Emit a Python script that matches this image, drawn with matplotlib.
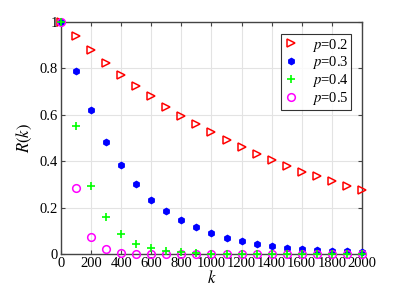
import numpy as np
import matplotlib.pyplot as plt

k = np.arange(0, 2001, 100)

r_02 = [1.0, 0.94, 0.88, 0.825, 0.77, 0.725, 0.68, 0.635, 0.595, 0.56, 0.525,
        0.49, 0.46, 0.43, 0.405, 0.38, 0.355, 0.335, 0.315, 0.295, 0.275]
r_03 = [1.0, 0.79, 0.62, 0.485, 0.385, 0.30, 0.235, 0.185, 0.145, 0.115, 0.092,
        0.070, 0.057, 0.044, 0.036, 0.027, 0.021, 0.018, 0.015, 0.012, 0.009]
r_04 = [1.0, 0.55, 0.295, 0.16, 0.085, 0.045, 0.025, 0.013, 0.007, 0.004, 0.002,
        0.001, 0.0, 0.0, 0.0, 0.0, 0.0, 0.0, 0.0, 0.0, 0.0]
r_05 = [1.0, 0.285, 0.075, 0.02, 0.005, 0.001, 0.0, 0.0, 0.0, 0.0, 0.0,
        0.0, 0.0, 0.0, 0.0, 0.0, 0.0, 0.0, 0.0, 0.0, 0.0]

plt.rcParams['font.family'] = ['Liberation Serif', 'DejaVu Serif']
plt.rcParams['mathtext.fontset'] = 'stix'

fig = plt.figure(figsize=(3.96, 2.94), dpi=100)
ax = fig.add_axes([0.154, 0.136, 0.76, 0.789])

ax.plot(k, r_02, linestyle='none', marker='>', markersize=6, markerfacecolor='none',
        markeredgecolor='red', markeredgewidth=1.1, label='$p$=0.2', clip_on=False, zorder=3)
ax.plot(k, r_03, linestyle='none', marker='h', markersize=4.5, color='blue',
        label='$p$=0.3', clip_on=False, zorder=3)
ax.plot(k, r_04, linestyle='none', marker='+', markersize=6, markeredgecolor='#00ff00',
        markeredgewidth=1.2, label='$p$=0.4', clip_on=False, zorder=4)
ax.plot(k, r_05, linestyle='none', marker='o', markersize=5.5, markerfacecolor='none',
        markeredgecolor='magenta', markeredgewidth=1.1, label='$p$=0.5', clip_on=False, zorder=3)

ax.set_xlim(0, 2000)
ax.set_ylim(0, 1)
ax.set_xticks(np.arange(0, 2001, 200))
ax.set_yticks([0, 0.2, 0.4, 0.6, 0.8, 1])
ax.set_yticklabels(['0', '0.2', '0.4', '0.6', '0.8', '1'])
ax.tick_params(direction='in', top=True, right=True, length=3, labelsize=10.5,
               color='#444444', pad=2)
ax.grid(True, color='#e3e3e3', linewidth=0.8)
ax.set_axisbelow(True)
for s in ax.spines.values():
    s.set_color('#444444')
    s.set_linewidth(1.0)

ax.set_xlabel('$k$', fontsize=12, labelpad=0)
ax.set_ylabel('$R(k)$', fontsize=12, labelpad=4)

leg = ax.legend(loc='upper right', bbox_to_anchor=(0.965, 0.95), fontsize=10.5,
                frameon=True, fancybox=False, handlelength=1.0, handletextpad=0.9,
                borderpad=0.2, labelspacing=0.05, borderaxespad=0)
leg.get_frame().set_edgecolor('black')
leg.get_frame().set_linewidth(0.8)

fig.savefig('out.png', dpi=100)
